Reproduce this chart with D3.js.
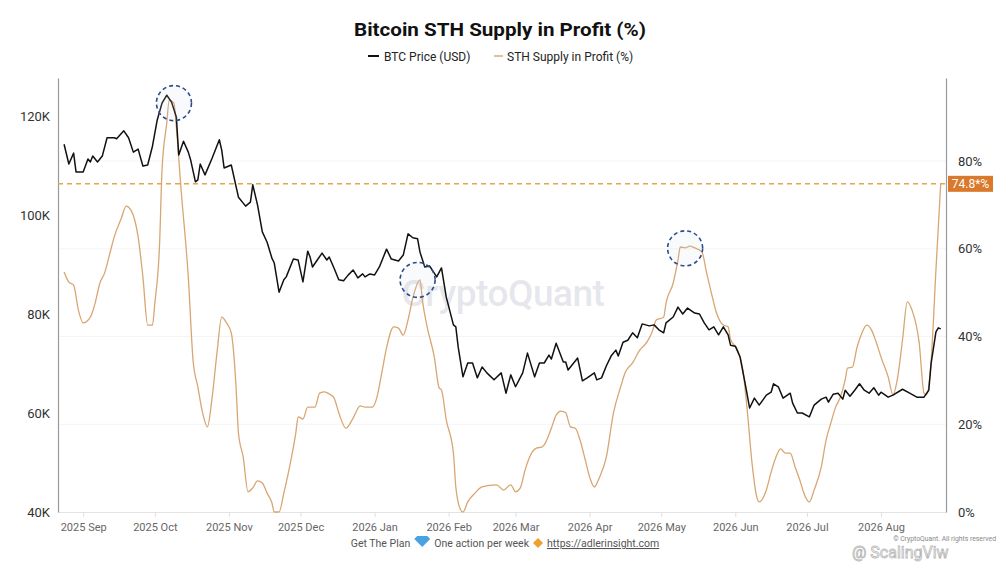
<!DOCTYPE html>
<html><head><meta charset="utf-8">
<script src="https://cdn.jsdelivr.net/npm/d3@7"></script>
<style>html,body{margin:0;padding:0;background:#fff;}svg{display:block;font-family:Roboto,"Noto Sans",sans-serif;}</style>
</head><body>
<svg id="c" width="1000" height="563"></svg>
<script>
// ---------- DATA ----------
const priceDates = ["2025-08-24","2025-08-26","2025-08-28","2025-08-29","2025-09-01","2025-09-03","2025-09-04","2025-09-05","2025-09-07","2025-09-09","2025-09-11","2025-09-14","2025-09-15","2025-09-18","2025-09-20","2025-09-22","2025-09-24","2025-09-26","2025-09-28","2025-09-30","2025-10-02","2025-10-04","2025-10-06","2025-10-08","2025-10-10","2025-10-11","2025-10-13","2025-10-15","2025-10-16","2025-10-18","2025-10-19","2025-10-20","2025-10-22","2025-10-25","2025-10-28","2025-10-29","2025-10-30","2025-11-02","2025-11-05","2025-11-07","2025-11-08","2025-11-10","2025-11-11","2025-11-13","2025-11-15","2025-11-17","2025-11-19","2025-11-20","2025-11-22","2025-11-24","2025-11-25","2025-11-28","2025-11-30","2025-12-02","2025-12-04","2025-12-05","2025-12-06","2025-12-08","2025-12-10","2025-12-12","2025-12-13","2025-12-15","2025-12-17","2025-12-19","2025-12-21","2025-12-23","2025-12-25","2025-12-27","2025-12-28","2025-12-30","2026-01-01","2026-01-03","2026-01-06","2026-01-08","2026-01-11","2026-01-13","2026-01-15","2026-01-17","2026-01-19","2026-01-20","2026-01-22","2026-01-24","2026-01-27","2026-01-29","2026-01-31","2026-02-03","2026-02-04","2026-02-05","2026-02-07","2026-02-09","2026-02-11","2026-02-13","2026-02-15","2026-02-17","2026-02-20","2026-02-23","2026-02-25","2026-02-27","2026-03-01","2026-03-04","2026-03-06","2026-03-09","2026-03-11","2026-03-13","2026-03-15","2026-03-16","2026-03-18","2026-03-21","2026-03-22","2026-03-23","2026-03-27","2026-03-29","2026-03-31","2026-04-03","2026-04-04","2026-04-06","2026-04-08","2026-04-10","2026-04-12","2026-04-13","2026-04-15","2026-04-17","2026-04-19","2026-04-21","2026-04-23","2026-04-26","2026-04-28","2026-04-30","2026-05-02","2026-05-03","2026-05-06","2026-05-08","2026-05-10","2026-05-12","2026-05-15","2026-05-17","2026-05-19","2026-05-21","2026-05-23","2026-05-25","2026-05-27","2026-05-29","2026-05-30","2026-06-01","2026-06-03","2026-06-05","2026-06-07","2026-06-09","2026-06-11","2026-06-14","2026-06-16","2026-06-17","2026-06-19","2026-06-21","2026-06-24","2026-06-25","2026-06-27","2026-06-29","2026-07-02","2026-07-04","2026-07-07","2026-07-09","2026-07-10","2026-07-12","2026-07-14","2026-07-16","2026-07-17","2026-07-19","2026-07-21","2026-07-23","2026-07-25","2026-07-27","2026-07-29","2026-07-31","2026-08-01","2026-08-04","2026-08-06","2026-08-10","2026-08-13","2026-08-16","2026-08-19","2026-08-21","2026-08-22","2026-08-24","2026-08-25","2026-08-26"];
const priceValues = [114300,110300,112500,108700,108700,111300,110700,111900,110700,111900,115600,115600,115400,117000,115600,112700,113300,109900,110100,113900,119200,122600,124200,122800,119800,112100,114900,112700,111100,106700,107100,110300,108100,111500,115200,113100,109500,110100,103600,102400,101800,102600,106100,102000,96600,94500,91300,90300,84400,86900,87500,91100,90900,86500,92700,91500,89500,90900,92300,90900,91500,89300,86900,86700,87900,88900,87300,88100,87500,88100,87900,89500,93100,91100,90700,91900,96200,95400,95200,92500,89500,89700,87500,89300,83400,77800,77400,73300,67300,70100,70100,67100,69300,68100,66700,68100,64000,67700,65300,68100,72100,67300,70100,70100,71700,70900,74100,70300,70300,68700,71100,66500,67100,68100,66700,67100,69500,71500,72700,71500,74300,74700,76200,75200,78000,77600,77800,76800,76200,78200,79400,81400,80000,81200,80200,80000,78200,76800,77400,75800,77400,75800,73700,73500,71300,66300,61000,63000,61600,63600,64200,65900,65300,63000,64000,62000,60000,60000,59200,61600,62800,63200,62200,63800,64000,62800,64600,63400,64600,65900,64600,64000,65100,63600,64200,63200,63600,64800,64000,63200,63200,64600,70100,76400,77200,77000];

const sthDates = ["2025-08-24","2025-08-26","2025-08-28","2025-08-30","2025-09-01","2025-09-04","2025-09-06","2025-09-08","2025-09-10","2025-09-12","2025-09-14","2025-09-17","2025-09-19","2025-09-21","2025-09-24","2025-09-26","2025-09-28","2025-09-30","2025-10-01","2025-10-03","2025-10-04","2025-10-06","2025-10-07","2025-10-09","2025-10-10","2025-10-12","2025-10-15","2025-10-17","2025-10-19","2025-10-21","2025-10-23","2025-10-25","2025-10-27","2025-10-29","2025-10-31","2025-11-02","2025-11-04","2025-11-05","2025-11-07","2025-11-09","2025-11-11","2025-11-13","2025-11-15","2025-11-17","2025-11-19","2025-11-20","2025-11-22","2025-11-24","2025-11-27","2025-11-29","2025-11-30","2025-12-02","2025-12-04","2025-12-07","2025-12-09","2025-12-11","2025-12-13","2025-12-15","2025-12-17","2025-12-20","2025-12-23","2025-12-26","2025-12-28","2025-12-31","2026-01-02","2026-01-04","2026-01-06","2026-01-09","2026-01-11","2026-01-13","2026-01-15","2026-01-17","2026-01-20","2026-01-21","2026-01-23","2026-01-26","2026-01-28","2026-01-29","2026-01-31","2026-02-03","2026-02-04","2026-02-06","2026-02-07","2026-02-09","2026-02-12","2026-02-15","2026-02-21","2026-02-24","2026-02-27","2026-03-01","2026-03-03","2026-03-05","2026-03-08","2026-03-10","2026-03-12","2026-03-13","2026-03-16","2026-03-18","2026-03-20","2026-03-22","2026-03-24","2026-03-26","2026-03-28","2026-03-30","2026-04-01","2026-04-03","2026-04-05","2026-04-08","2026-04-11","2026-04-14","2026-04-16","2026-04-19","2026-04-22","2026-04-25","2026-04-27","2026-04-29","2026-05-02","2026-05-03","2026-05-06","2026-05-08","2026-05-09","2026-05-11","2026-05-13","2026-05-15","2026-05-18","2026-05-20","2026-05-22","2026-05-24","2026-05-27","2026-05-29","2026-05-30","2026-06-02","2026-06-04","2026-06-06","2026-06-08","2026-06-10","2026-06-11","2026-06-14","2026-06-16","2026-06-18","2026-06-20","2026-06-22","2026-06-24","2026-06-26","2026-06-28","2026-06-30","2026-07-02","2026-07-04","2026-07-07","2026-07-09","2026-07-11","2026-07-13","2026-07-15","2026-07-17","2026-07-18","2026-07-20","2026-07-22","2026-07-24","2026-07-26","2026-07-28","2026-07-30","2026-08-01","2026-08-04","2026-08-06","2026-08-08","2026-08-10","2026-08-12","2026-08-14","2026-08-17","2026-08-19","2026-08-20","2026-08-22","2026-08-24","2026-08-26"];
const sthValues = [54.7,52.4,51.7,46.0,43.1,44.4,47.6,52.2,54.5,58.6,62.7,67.0,69.7,68.8,62.7,53.6,42.6,42.6,47.6,61.3,77.9,88.7,93.9,93.2,87.7,73.4,53.6,34.6,28.5,22.6,19.4,26.2,36.2,44.4,43.1,40.8,28.5,18.0,12.5,4.6,5.5,7.1,6.6,4.3,2.1,0,0,4.3,11.9,18.0,21.7,21.2,23.9,23.9,27.1,27.4,26.9,26.0,22.6,19.1,21.4,24.2,23.9,23.9,26.2,31.7,37.4,42.2,41.9,40.3,43.8,48.8,52.9,48.3,42.2,35.3,28.3,27.8,21.0,13.4,5.7,0.5,0,2.3,4.3,5.7,6.2,5.0,6.2,4.6,5.5,9.6,13.7,14.6,14.8,15.3,19.1,22.1,23.0,22.6,19.4,19.1,16.4,12.3,8.0,5.7,7.7,12.5,22.6,28.5,31.9,34.0,36.9,38.7,40.8,43.8,44.4,47.6,52.2,57.4,60.4,60.2,60.6,60.2,59.3,54.5,49.9,45.6,42.6,42.2,39.4,36.9,33.0,23.2,11.2,3.4,2.3,5.0,9.1,12.5,14.4,13.4,13.4,10.3,7.3,3.9,2.3,5.0,10.3,16.4,20.3,23.9,26.2,30.1,32.8,33.0,37.6,40.8,42.6,41.5,38.7,35.3,30.8,26.7,30.8,39.2,47.9,46.0,38.5,27.1,26.7,34.6,55.2,74.8];

const monthTicks = ["2025-09-01","2025-10-01","2025-11-01","2025-12-01","2026-01-01","2026-02-01","2026-03-01","2026-04-01","2026-05-01","2026-06-01","2026-07-01","2026-08-01"];
const priceTicks = [40000,60000,80000,100000,120000];
const sthTicks = [0,20,40,60,80];
const latestSth = 74.8;
const latestLabel = "74.8*%";
const highlightDates = ["2025-10-09","2026-01-19","2026-05-11"];
const highlightValues = [93.2,52.9,60.1];

// ---------- CHART ----------
const parse = d3.utcParse("%Y-%m-%d");
const svg = d3.select("#c");
const W = 1000, H = 563;
const m = {left:58, right:54, top:78, bottom:51};

const x = d3.scaleUtc()
  .domain([new Date(Date.UTC(2025,7,21,11)), new Date(Date.UTC(2026,7,28,5))])
  .range([m.left, W - m.right]);
const yL = d3.scaleLinear().domain([40000, 127676]).range([H - m.bottom, m.top]);
const yR = d3.scaleLinear().domain([0, 98.92]).range([H - m.bottom, m.top]);

const price = priceDates.map((d,i)=>({date:parse(d), v:priceValues[i]}));
const sth = sthDates.map((d,i)=>({date:parse(d), v:sthValues[i]}));

// title & legend
svg.append("text").attr("x",500).attr("y",36).attr("text-anchor","middle")
  .attr("font-size",19).attr("font-weight",700).attr("fill","#111")
  .attr("textLength",292).attr("lengthAdjust","spacingAndGlyphs")
  .text("Bitcoin STH Supply in Profit (%)");

const lg = svg.append("g").attr("font-size",12).attr("fill","#222");
lg.append("line").attr("x1",368).attr("x2",379).attr("y1",56).attr("y2",56).attr("stroke","#111").attr("stroke-width",2);
lg.append("text").attr("x",384).attr("y",60.5).text("BTC Price (USD)");
lg.append("line").attr("x1",494).attr("x2",503).attr("y1",56).attr("y2",56).attr("stroke","#e0c29a").attr("stroke-width",2);
lg.append("text").attr("x",507).attr("y",60.5).text("STH Supply in Profit (%)");

// gridlines
svg.append("g").selectAll("line").data(sthTicks.filter(d=>d>0)).join("line")
  .attr("x1",m.left).attr("x2",W-m.right)
  .attr("y1",d=>yR(d)).attr("y2",d=>yR(d))
  .attr("stroke","#f4f4f6").attr("stroke-width",1);

// watermark
svg.append("text").attr("x",503).attr("y",306).attr("text-anchor","middle")
  .attr("font-size",37).attr("font-weight",500).attr("fill","#dcdde6").attr("fill-opacity",0.7)
  .attr("letter-spacing",-0.5).text("CryptoQuant");

// bottom baseline + ticks
const xAxis = d3.axisBottom(x).tickValues(monthTicks.map(parse))
  .tickFormat(d3.utcFormat("%Y %b")).tickSize(5).tickSizeOuter(0).tickPadding(6);
const gx = svg.append("g").attr("transform",`translate(0,${H-m.bottom})`).call(xAxis);
gx.select(".domain").attr("stroke","#e3e3e3");
gx.selectAll(".tick line").attr("stroke","#e0e0e0");
gx.selectAll(".tick text").attr("font-size",11).attr("fill","#666").attr("font-family","Roboto, sans-serif");

// left axis
const gl = svg.append("g").attr("transform",`translate(${m.left},0)`)
  .call(d3.axisLeft(yL).tickValues(priceTicks).tickFormat(d=>d/1000+"K").tickSize(0).tickSizeOuter(0).tickPadding(8));
gl.select(".domain").attr("stroke","#9a9a9a").attr("stroke-width",1.2);
gl.selectAll(".tick text").attr("font-size",13).attr("fill","#333").attr("font-family","Roboto, sans-serif");

// right axis
const gr = svg.append("g").attr("transform",`translate(${W-m.right},0)`)
  .call(d3.axisRight(yR).tickValues(sthTicks).tickFormat(d=>d+"%").tickSize(0).tickSizeOuter(0).tickPadding(12));
gr.select(".domain").attr("stroke","#9a9a9a").attr("stroke-width",1.2);
gr.selectAll(".tick text").attr("font-size",13).attr("fill","#333").attr("font-family","Roboto, sans-serif");

// reference line
svg.append("line").attr("x1",m.left).attr("x2",W-m.right)
  .attr("y1",yR(latestSth)).attr("y2",yR(latestSth))
  .attr("stroke","#e3a64a").attr("stroke-width",1.5).attr("stroke-dasharray","5,4");

// lines
svg.append("path").datum(sth)
  .attr("d", d3.line().x(d=>x(d.date)).y(d=>yR(d.v)).curve(d3.curveMonotoneX))
  .attr("fill","none").attr("stroke","#d8a672").attr("stroke-width",1.3);
svg.append("path").datum(price)
  .attr("d", d3.line().x(d=>x(d.date)).y(d=>yL(d.v)))
  .attr("fill","none").attr("stroke","#111").attr("stroke-width",1.5).attr("stroke-linejoin","round");

// highlight circles
svg.append("g").selectAll("circle").data(highlightDates).join("circle")
  .attr("cx",(d)=>x(parse(d))).attr("cy",(d,i)=>yR(highlightValues[i])).attr("r",17.5)
  .attr("fill","#c8d2e6").attr("fill-opacity",0.12)
  .attr("stroke","#2c4c8c").attr("stroke-width",1.6).attr("stroke-dasharray","4,3");

// latest label
const ly = yR(latestSth);
svg.append("rect").attr("x",W-m.right+2).attr("y",ly-8).attr("width",45).attr("height",16).attr("fill","#da782b");
svg.append("text").attr("x",W-m.right+24.5).attr("y",ly+4.3).attr("text-anchor","middle")
  .attr("font-size",12).attr("fill","#fff").text(latestLabel);

// footer (laid out left to right, centred)
const ft = svg.append("g").attr("font-size",10.5).attr("fill","#555");
const fy = 547;
const t1 = ft.append("text").attr("y",fy).text("Get The Plan");
const g1 = ft.append("path").attr("d","M-5,-8 h10 l3,3 l-8,8 l-8,-8 z").attr("fill","#4aa3e0");
const t2 = ft.append("text").attr("y",fy).text("One action per week");
const g2 = ft.append("path").attr("d","M0,-5 l5,5 l-5,5 l-5,-5 z").attr("fill","#f0a030");
const t3 = ft.append("text").attr("y",fy).attr("text-decoration","underline").text("https://adlerinsight.com");
const w1 = t1.node().getComputedTextLength(), w2 = t2.node().getComputedTextLength(), w3 = t3.node().getComputedTextLength();
const gap = 4, gw = 16, dw = 10;
const total = w1 + gap + gw + gap + w2 + gap + dw + gap + w3;
let cx0 = 505 - total/2;
t1.attr("x",cx0); cx0 += w1 + gap;
g1.attr("transform",`translate(${cx0+gw/2},${fy-3})`); cx0 += gw + gap;
t2.attr("x",cx0); cx0 += w2 + gap;
g2.attr("transform",`translate(${cx0+dw/2},${fy-4})`); cx0 += dw + gap;
t3.attr("x",cx0);

// corner watermark + copyright
svg.append("text").attr("x",996).attr("y",541).attr("text-anchor","end").attr("font-size",6.8).attr("fill","#888")
  .text("© CryptoQuant. All rights reserved");
svg.append("text").attr("x",852).attr("y",558).attr("font-size",16).attr("fill","#fff").attr("fill-opacity",0.25)
  .attr("stroke","#b8b8b8").attr("stroke-width",0.8).text("@ ScalingViw");
</script>
</body></html>
